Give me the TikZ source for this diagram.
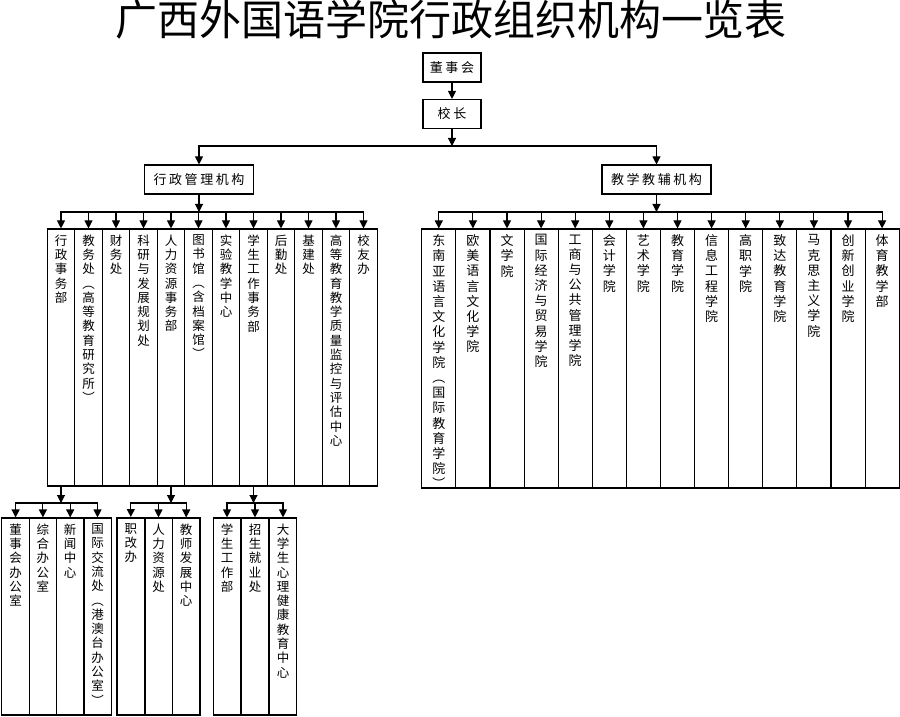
\documentclass[tikz,border=0pt]{standalone}
\usepackage{fontspec}
\setmainfont{Noto Sans CJK SC}
\newfontfamily\wide[LetterSpace=20]{Noto Sans CJK SC}
\usetikzlibrary{positioning, arrows.meta}
\newcommand{\vt}[1]{\parindent=0pt\lineskiplimit=-100pt\vtx#1\relax}
\newcommand{\vtx}[1]{\ifx\relax#1\else#1\par\expandafter\vtx\fi}
\tikzset{H/.style={draw, line width=1.1pt, minimum width=58pt, minimum height=29pt, inner sep=0pt, font=\wide\fontsize{13}{15}\selectfont}}
\tikzset{W/.style={draw, line width=1.1pt, minimum width=109pt, minimum height=29pt, inner sep=0pt, font=\wide\fontsize{13}{15}\selectfont}}
\tikzset{V/.style={draw, line width=1.1pt, minimum width=27.5pt, minimum height=257pt, inner sep=0pt}}
\tikzset{R/.style={draw, line width=1.1pt, minimum width=34.1pt, minimum height=259pt, inner sep=0pt}}
\tikzset{S/.style={draw, line width=1.1pt, minimum width=27.5pt, minimum height=197pt, inner sep=0pt}}
\tikzset{T/.style={anchor=north, yshift=-6pt, text width=14pt, align=center, inner sep=0pt, font=\fontsize{12.5}{14.3}\selectfont}}
\tikzset{U/.style={anchor=north, yshift=-6pt, text width=14pt, align=center, inner sep=0pt, font=\fontsize{13}{15.2}\selectfont}}
\tikzset{E/.style={draw, line width=1.1pt, -{Triangle[width=8pt,length=8pt]}}}

\begin{document}
\begin{tikzpicture}[x=1pt, y=1pt, node distance=27.5pt, on grid]
        \useasboundingbox (0,0) rectangle (900,716);
        %% Title
        \node (title) at (451,696) {\fontsize{42}{46}\selectfont 广西外国语学院行政组织机构一览表};
        %% Top boxes
        \node[H] (dsh) at (452,648.5) {董事会};
        \node[H,below=46.5pt of dsh] (xz) {校长};
        \node[W] (xzgl) at (199,536.5) {行政管理机构};
        \node[W] (jxjf) at (656.5,536.5) {教学教辅机构};
        \coordinate (bxz) at (452,570);
        \coordinate (bgl) at (199,504);
        \coordinate (bjf) at (jxjf |- bgl);
        %% Administrative departments
        \node[V,label={[T]north:\vt{行政事务部}}] (bm1) at (61,358.5) {};
        \node[V,right=of bm1,label={[T]north:\vt{教务处︵高等教育研究所︶}}] (bm2) {};
        \node[V,right=of bm2,label={[T]north:\vt{财务处}}] (bm3) {};
        \node[V,right=of bm3,label={[T]north:\vt{科研与发展规划处}}] (bm4) {};
        \node[V,right=of bm4,label={[T]north:\vt{人力资源事务部}}] (bm5) {};
        \node[V,right=of bm5,label={[T]north:\vt{图书馆︵含档案馆︶}}] (bm6) {};
        \node[V,right=of bm6,label={[T]north:\vt{实验教学中心}}] (bm7) {};
        \node[V,right=of bm7,label={[T]north:\vt{学生工作事务部}}] (bm8) {};
        \node[V,right=of bm8,label={[T]north:\vt{后勤处}}] (bm9) {};
        \node[V,right=of bm9,label={[T]north:\vt{基建处}}] (bm10) {};
        \node[V,right=of bm10,label={[T]north:\vt{高等教育教学质量监控与评估中心}}] (bm11) {};
        \node[V,right=of bm11,label={[T]north:\vt{校友办}}] (bm12) {};
        %% Teaching units
        \node[R,label={[U]north:\vt{东南亚语言文化学院︵国际教育学院︶}}] (xy1) at (438.8,357.5) {};
        \node[R,right=34.1pt of xy1,label={[U]north:\vt{欧美语言文化学院}}] (xy2) {};
        \node[R,right=34.1pt of xy2,label={[U]north:\vt{文学院}}] (xy3) {};
        \node[R,right=34.1pt of xy3,label={[U]north:\vt{国际经济与贸易学院}}] (xy4) {};
        \node[R,right=34.1pt of xy4,label={[U]north:\vt{工商与公共管理学院}}] (xy5) {};
        \node[R,right=34.1pt of xy5,label={[U]north:\vt{会计学院}}] (xy6) {};
        \node[R,right=34.1pt of xy6,label={[U]north:\vt{艺术学院}}] (xy7) {};
        \node[R,right=34.1pt of xy7,label={[U]north:\vt{教育学院}}] (xy8) {};
        \node[R,right=34.1pt of xy8,label={[U]north:\vt{信息工程学院}}] (xy9) {};
        \node[R,right=34.1pt of xy9,label={[U]north:\vt{高职学院}}] (xy10) {};
        \node[R,right=34.1pt of xy10,label={[U]north:\vt{致达教育学院}}] (xy11) {};
        \node[R,right=34.1pt of xy11,label={[U]north:\vt{马克思主义学院}}] (xy12) {};
        \node[R,right=34.1pt of xy12,label={[U]north:\vt{创新创业学院}}] (xy13) {};
        \node[R,right=34.1pt of xy13,label={[U]north:\vt{体育教学部}}] (xy14) {};
        %% Sub offices
        \coordinate (bbm1) at (bm1 |- 0,213);
        \coordinate (bbm5) at (bm5 |- 0,213);
        \coordinate (bbm8) at (bm8 |- 0,213);
        \node[S,label={[T]north:\vt{董事会办公室}}] (bm1a) at (15.6,99.5) {};
        \node[S,right=27.3pt of bm1a,label={[T]north:\vt{综合办公室}}] (bm1b) {};
        \node[S,right=27.3pt of bm1b,label={[T]north:\vt{新闻中心}}] (bm1c) {};
        \node[S,right=27.3pt of bm1c,label={[T]north:\vt{国际交流处︵港澳台办公室︶}}] (bm1d) {};
        \node[S,line width=2pt,label={[T]north:\vt{职改办}}] (bm5a) at (130.8,99.5) {};
        \node[S,right=27.7pt of bm5a,label={[T]north:\vt{人力资源处}}] (bm5b) {};
        \node[S,right=27.7pt of bm5b,label={[T]north:\vt{教师发展中心}}] (bm5c) {};
        \node[S,label={[T]north:\vt{学生工作部}}] (bm8a) at (227,99.5) {};
        \node[S,right=28pt of bm8a,label={[T]north:\vt{招生就业处}}] (bm8b) {};
        \node[S,right=28pt of bm8b,label={[T]north:\vt{大学生心理健康教育中心}}] (bm8c) {};
        %% Top Edges
        \draw[E] (dsh) -- (xz);
        \draw[E] (xz) -- (bxz);
        \draw[E] (bxz) -| (xzgl);
        \draw[E] (bxz) -| (jxjf);
        %% Administrative Edges
        \draw[E] (xzgl) -- (bgl);
        \draw[E] (bgl) -| (bm1);
        \draw[E] (bgl) -| (bm2);
        \draw[E] (bgl) -| (bm3);
        \draw[E] (bgl) -| (bm4);
        \draw[E] (bgl) -| (bm5);
        \draw[E] (bgl) -| (bm6);
        \draw[E] (bgl) -| (bm7);
        \draw[E] (bgl) -| (bm8);
        \draw[E] (bgl) -| (bm9);
        \draw[E] (bgl) -| (bm10);
        \draw[E] (bgl) -| (bm11);
        \draw[E] (bgl) -| (bm12);
        %% Teaching Edges
        \draw[E] (jxjf) -- (bjf);
        \draw[E] (bjf) -| (xy1);
        \draw[E] (bjf) -| (xy2);
        \draw[E] (bjf) -| (xy3);
        \draw[E] (bjf) -| (xy4);
        \draw[E] (bjf) -| (xy5);
        \draw[E] (bjf) -| (xy6);
        \draw[E] (bjf) -| (xy7);
        \draw[E] (bjf) -| (xy8);
        \draw[E] (bjf) -| (xy9);
        \draw[E] (bjf) -| (xy10);
        \draw[E] (bjf) -| (xy11);
        \draw[E] (bjf) -| (xy12);
        \draw[E] (bjf) -| (xy13);
        \draw[E] (bjf) -| (xy14);
        %% Sub Edges
        \draw[E] (bm1) -- (bbm1);
        \draw[E] (bbm1) -| (bm1a);
        \draw[E] (bbm1) -| (bm1b);
        \draw[E] (bbm1) -| (bm1c);
        \draw[E] (bbm1) -| (bm1d);
        \draw[E] (bm5) -- (bbm5);
        \draw[E] (bbm5) -| (bm5a);
        \draw[E] (bbm5) -| (bm5b);
        \draw[E] (bbm5) -| (bm5c);
        \draw[E] (bm8) -- (bbm8);
        \draw[E] (bbm8) -| (bm8a);
        \draw[E] (bbm8) -| (bm8b);
        \draw[E] (bbm8) -| (bm8c);
\end{tikzpicture}
\end{document}
